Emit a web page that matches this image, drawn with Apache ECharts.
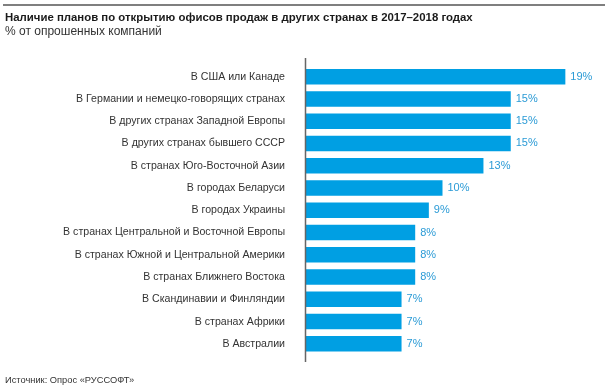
<!DOCTYPE html>
<html><head><meta charset="utf-8">
<script src="https://cdn.jsdelivr.net/npm/echarts@6/dist/echarts.min.js"></script>
<style>html,body{margin:0;padding:0;background:#fff}#c{width:612px;height:390px}</style>
</head><body><div id="c"></div>
<script>
const categories = [
  "В США или Канаде",
  "В Германии и немецко-говорящих странах",
  "В других странах Западной Европы",
  "В других странах бывшего СССР",
  "В странах Юго-Восточной Азии",
  "В городах Беларуси",
  "В городах Украины",
  "В странах Центральной и Восточной Европы",
  "В странах Южной и Центральной Америки",
  "В странах Ближнего Востока",
  "В Скандинавии и Финляндии",
  "В странах Африки",
  "В Австралии"
];
const values = [19, 15, 15, 15, 13, 10, 9, 8, 8, 8, 7, 7, 7];
const titleText = "Наличие планов по открытию офисов продаж в других странах в 2017–2018 годах";
const subtitleText = "% от опрошенных компаний";
const sourceText = "Источник: Опрос «РУССОФТ»";

const chart = echarts.init(document.getElementById('c'), null, {renderer: 'canvas'});
chart.setOption({
  animation: false,
  backgroundColor: '#fff',
  grid: {left: 306, top: 65.5, width: 273, height: 289.5, containLabel: false},
  xAxis: {type: 'value', min: 0, max: 20, show: false},
  yAxis: {
    type: 'category', inverse: true, data: categories,
    axisLine: {show: false}, axisTick: {show: false},
    axisLabel: {color: '#333', fontFamily: 'Liberation Sans', fontSize: 10.6, margin: 21}
  },
  series: [{
    type: 'bar', data: values, barWidth: 15.5,
    itemStyle: {color: '#009fe3'},
    label: {show: true, position: 'right', distance: 5, formatter: '{c}%',
      color: '#2b9bd6', fontFamily: 'Liberation Sans', fontSize: 11}
  }],
  graphic: [
    {type: 'line', shape: {x1: 3, y1: 5, x2: 605, y2: 5}, style: {stroke: '#555', lineWidth: 1.5}},
    {type: 'line', shape: {x1: 305.5, y1: 58, x2: 305.5, y2: 362}, style: {stroke: '#666', lineWidth: 1.5}, z: 10},
    {type: 'text', left: 5, top: 12, style: {text: titleText, fill: '#1a1a1a', font: 'bold 11.4px "Liberation Sans"'}},
    {type: 'text', left: 5, top: 26, style: {text: subtitleText, fill: '#333', font: '12px "Liberation Sans"'}},
    {type: 'text', left: 5, top: 376, style: {text: sourceText, fill: '#333', font: '9.3px "Liberation Sans"'}}
  ]
});
</script></body></html>
